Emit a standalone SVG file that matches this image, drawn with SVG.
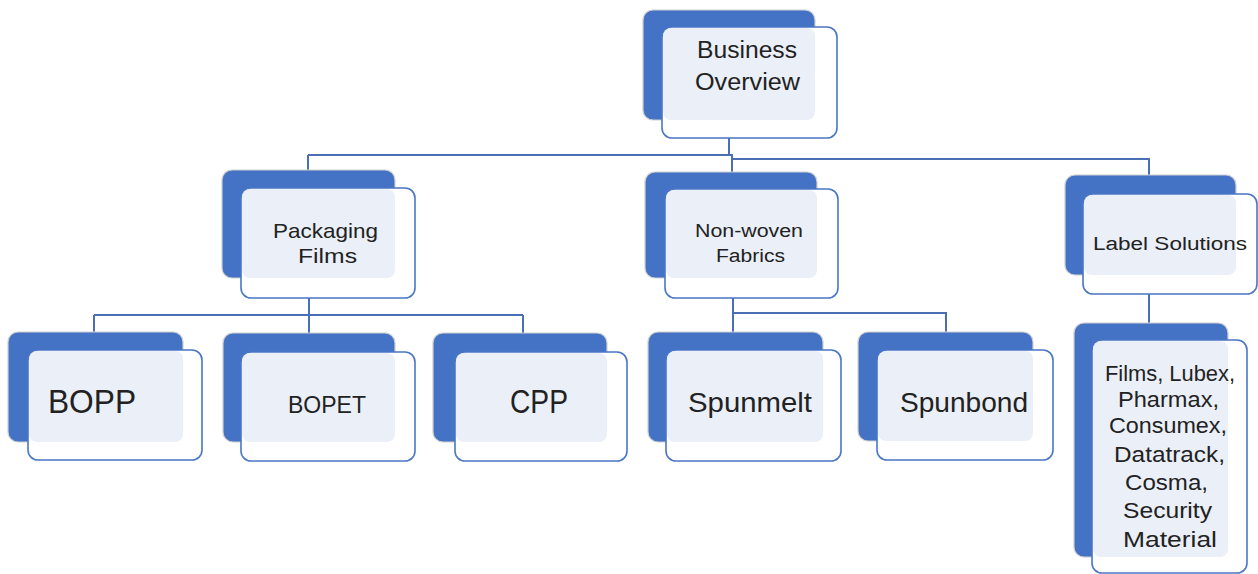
<svg xmlns="http://www.w3.org/2000/svg" width="1258" height="574" viewBox="0 0 1258 574">
<style>
.back{fill:#4472C4;stroke:#cfcfcf;stroke-width:1.2}
.front{fill:#ffffff;stroke:#4A76C6;stroke-width:1.6}
.ov{fill:#EAEFF8}
.t{font-family:"Liberation Sans",Arial,sans-serif;fill:#222;}
.c{fill:none;stroke:#4A6FB5;stroke-width:2}
</style>
<rect width="1258" height="574" fill="#ffffff"/>
<g id="connectors">
<path class="c" d="M729,138 V155 M308,155 H729 M308,155 V170 M729,155 H732 V172 M732,159 H1149 V175"/>
<path class="c" d="M309,298 V333 M94,315 H523 M94,315 V332 M523,315 V333"/>
<path class="c" d="M733,298 V332 M733,313 H946 V332"/>
<path class="c" d="M1149,294 V323"/>
</g>
<g id="business-overview">
<rect class="back" x="643" y="10" width="172" height="110" rx="10"/>
<rect class="front" x="662" y="27" width="175" height="111" rx="10"/>
<rect class="ov" x="663" y="28" width="152" height="92" rx="8"/>
<text class="t" x="697" y="58" font-size="23" textLength="100" lengthAdjust="spacingAndGlyphs">Business</text>
<text class="t" x="695" y="90" font-size="23" textLength="105" lengthAdjust="spacingAndGlyphs">Overview</text>
</g>
<g id="packaging-films">
<rect class="back" x="222" y="170" width="173" height="108" rx="10"/>
<rect class="front" x="241" y="188" width="174" height="110" rx="10"/>
<rect class="ov" x="242" y="189" width="153" height="89" rx="8"/>
<text class="t" x="273" y="238" font-size="21" textLength="105" lengthAdjust="spacingAndGlyphs">Packaging</text>
<text class="t" x="298" y="263" font-size="21" textLength="59" lengthAdjust="spacingAndGlyphs">Films</text>
</g>
<g id="non-woven-fabrics">
<rect class="back" x="645" y="172" width="172" height="106" rx="10"/>
<rect class="front" x="665" y="189" width="173" height="109" rx="10"/>
<rect class="ov" x="666" y="190" width="151" height="88" rx="8"/>
<text class="t" x="695" y="237" font-size="18" textLength="108" lengthAdjust="spacingAndGlyphs">Non-woven</text>
<text class="t" x="716" y="262" font-size="18" textLength="69" lengthAdjust="spacingAndGlyphs">Fabrics</text>
</g>
<g id="label-solutions">
<rect class="back" x="1065" y="175" width="171" height="100" rx="10"/>
<rect class="front" x="1083" y="194" width="174" height="100" rx="10"/>
<rect class="ov" x="1084" y="195" width="152" height="80" rx="8"/>
<text class="t" x="1093" y="250" font-size="18" textLength="154" lengthAdjust="spacingAndGlyphs">Label Solutions</text>
</g>
<g id="bopp">
<rect class="back" x="8" y="332" width="175" height="110" rx="10"/>
<rect class="front" x="28" y="350" width="174" height="110" rx="10"/>
<rect class="ov" x="29" y="351" width="154" height="91" rx="8"/>
<text class="t" x="48" y="413" font-size="33" textLength="88" lengthAdjust="spacingAndGlyphs">BOPP</text>
</g>
<g id="bopet">
<rect class="back" x="223" y="333" width="172" height="109" rx="10"/>
<rect class="front" x="241" y="352" width="174" height="109" rx="10"/>
<rect class="ov" x="242" y="353" width="153" height="89" rx="8"/>
<text class="t" x="288" y="413" font-size="24" textLength="78" lengthAdjust="spacingAndGlyphs">BOPET</text>
</g>
<g id="cpp">
<rect class="back" x="433" y="333" width="174" height="109" rx="10"/>
<rect class="front" x="455" y="352" width="172" height="109" rx="10"/>
<rect class="ov" x="456" y="353" width="151" height="89" rx="8"/>
<text class="t" x="510" y="413" font-size="33" textLength="58" lengthAdjust="spacingAndGlyphs">CPP</text>
</g>
<g id="spunmelt">
<rect class="back" x="648" y="332" width="175" height="110" rx="10"/>
<rect class="front" x="666" y="350" width="175" height="111" rx="10"/>
<rect class="ov" x="667" y="351" width="156" height="91" rx="8"/>
<text class="t" x="688" y="412" font-size="28" textLength="124" lengthAdjust="spacingAndGlyphs">Spunmelt</text>
</g>
<g id="spunbond">
<rect class="back" x="858" y="332" width="175" height="109" rx="10"/>
<rect class="front" x="877" y="350" width="176" height="110" rx="10"/>
<rect class="ov" x="878" y="351" width="155" height="90" rx="8"/>
<text class="t" x="900" y="412" font-size="28" textLength="128" lengthAdjust="spacingAndGlyphs">Spunbond</text>
</g>
<g id="label-products">
<rect class="back" x="1074" y="323" width="154" height="234" rx="10"/>
<rect class="front" x="1092" y="340" width="155" height="233" rx="10"/>
<rect class="ov" x="1093" y="341" width="135" height="216" rx="8"/>
<g class="t" font-size="22">
<text x="1105" y="381" textLength="130" lengthAdjust="spacingAndGlyphs">Films, Lubex,</text>
<text x="1118" y="407" textLength="101" lengthAdjust="spacingAndGlyphs">Pharmax,</text>
<text x="1109" y="433" textLength="118" lengthAdjust="spacingAndGlyphs">Consumex,</text>
<text x="1114" y="462" textLength="111" lengthAdjust="spacingAndGlyphs">Datatrack,</text>
<text x="1125" y="490" textLength="83" lengthAdjust="spacingAndGlyphs">Cosma,</text>
<text x="1123" y="518" textLength="89" lengthAdjust="spacingAndGlyphs">Security</text>
<text x="1123" y="547" textLength="94" lengthAdjust="spacingAndGlyphs">Material</text>
</g>
</g>
</svg>
